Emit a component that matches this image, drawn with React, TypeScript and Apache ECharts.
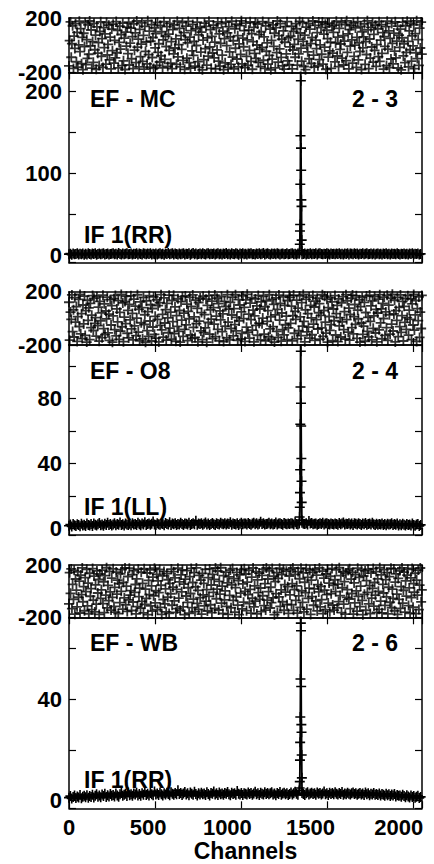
import React, { useEffect, useRef } from "react";
import * as echarts from "echarts";

// ---------------- data ----------------
const CHANNEL_MAX = 2048;
const CHANNEL_TICKS = [0, 500, 1000, 1500, 2000];
const BASELINE_LABELS = ["EF - MC", "EF - O8", "EF - WB"];
const PAIR_LABELS = ["2 - 3", "2 - 4", "2 - 6"];
const IF_LABELS = ["IF 1(RR)", "IF 1(LL)", "IF 1(RR)"];
const PHASE_TICKS = [-200, 200];
const AMP_MIN = [-8.5, -4.1, -3];
const AMP_MAX = [223, 112.8, 72.3];
const AMP_TICK_STEP = [50, 20, 20];
const AMP_LABEL_STEP = [100, 40, 40];
const BASE_STEP = 8; // baseline amplitude sampled every 8 channels

const phaseMC = [
  -152, 34, 171, -88, 12, 143, -170, 67, -23, 158, -121, 95, -160, 3, 176, -47, 122, -135, 58, -179,
  88, -10, 165, -142, 41, -97, 150, -66, 178, -5, 112, -168, 27, -125, 161, -33, 74, -176, 135, -58,
  19, -149, 101, 172, -82, 49, -163, 130, -17, 84, -139, 167, -71, 6, 147, -108, 60, -174, 119, -40,
  155, -131, 36, -92, 174, -55, 109, -166, 21, 140, -28, 79, -150, 162, -114, 52, -178, 96, -7, 133,
  -61, 169, -145, 15, 126, -99, 63, -172, 157, -36, 91, -127, 178, -14, 45, -158, 117, -84, 8, 164,
  -118, 72, -175, 139, -45, 24, -137, 180, -69, 103, -161, 31, 152, -90, 57, -170, 128, -19, 86, -147,
  168, -52, 11, -123, 145, -77, 99, -165, 39, 173, -103, 66, -9, 137, -156, 81, -38, 160, -132, 27,
  -171, 114, -63, 150, -20, 47, -140, 176, -86, 5, 124, -159, 70, -30, 166, -111, 93, -177, 42, 141,
  -95, 18, 175, -128, 59, -167, 107, -42, 153, -74, 29, -153, 120, -2, 170, -120, 76, -163, 132, -50,
  97, -180, 38, -106, 162, -25, 138, -146, 54, -80, 177, -13, 115, -169, 65, -57, 148, -93, 23, -173,
  127, -34, 171, -117, 83, -154, 14, 159, -72, 104, -179, 48, -129, 169, -3, 91, -162, 136, -48, 61,
  -141, 176, -87, 33, -174, 121, -22, 154, -101, 70, -158, 10, 144, -67, 179, -136, 53, -11, 108, -164,
  163, -81, 40, -148, 111, -37, 172, -119, 85, -176, 26, 131, -59, 167, -96, 2, 156, -126, 78, -31,
  -157, 99, -16, 174, -110, 62, -170, 142, -44, 17, -138, 165, -75, 119, -180, 36, -102, 149, -8, 88,
  -166, 129, -54, 178, -124, 71, -27, 158, -89, 44, -151, 106, -175, 22, 137, -64, 173, -115, 56, -143,
  -12, 66, 140, -174, -35, 102, 7, -88, 159, 121, -146, 44, -63, 175, 90, -21, -117, 168, 28, -156,
  75, -179, 133, -2, -48, 161, -99, 118, 12, -134, 57, 178, -72, -160, 146, 38, -25, 93, -151, 170,
  -105, 3, 129, -66, 171, -138, 81, -14, 154, -176, 110, 49, -87, 163, -41, 22, -169, 137, -58, 94,
  148, -122, 17, 176, -79, 60, -157, 124, -31, 9, 167, -95, 71, -145, 30, 152, -113, 179, -52, 84,
  -173, 115, -6, 145, 40, -131, 165, -82, 1, 127, -162, 58, 174, -107, 18, -46, 139, -178, 99, -19,
  62, 157, -140, 26, -68, 179, 113, -171, 46, -94, 131, -13, 166, -124, 80, -37, 147, -155, 5, 121,
  -83, 173, -119, 37, 151, -60, 92, -175, 64, -8, 136, -149, 176, -29, 105, -164, 51, -101, 160, 14,
  -136, 89, -43, 172, -92, 31, 141, -167, 74, -15, 118, -180, 55, 169, -78, 11, -128, 143, -53, 177,
  28, -158, 106, -33, 163, -116, 69, -4, 149, -172, 86, -55, 179, -98, 42, -147, 125, -20, 170, -65,
];

const phaseO8 = [
  121, -164, 47, -8, 176, -99, 64, -140, 155, -29, 88, -173, 13, 142, -61, 179, -116, 35, -152, 100,
  -42, 167, -128, 58, -178, 136, -15, 79, -160, 113, -70, 24, 171, -91, 150, -37, 6, -134, 162, -55,
  84, -171, 128, -18, 41, -145, 174, -77, 109, -122, 55, -4, 159, -109, 31, -166, 140, -50, 95, -179,
  18, 148, -85, 172, -131, 71, -26, 133, -158, 45, -96, 179, -63, 116, -175, 9, 126, -40, 166, -112,
  60, -147, 105, -11, 169, -79, 37, -162, 145, -57, 92, -129, 1, 177, -103, 68, -168, 123, -33, 81,
  -154, 157, -46, 27, -180, 131, -92, 50, -136, 170, -20, 102, -170, 74, -65, 161, -120, 15, -148, 139,
  -7, 95, -177, 118, -52, 178, -87, 30, -141, 153, -35, 66, -163, 112, 4, -108, 174, -73, 46, -157,
  134, -24, 173, -115, 86, -172, 21, -60, 147, -98, 59, -178, 125, -13, 163, -135, 39, -82, 168, -49,
  107, -167, 52, -3, 158, -125, 90, -150, 176, -68, 11, -143, 137, -39, 75, -176, 119, -21, 152, -94,
  43, -159, 166, -107, 28, -71, 144, -179, 98, -31, 171, -119, 63, -6, 130, -152, 80, -44, 175, -137,
  16, 151, -83, 110, -169, 56, -12, 164, -100, 34, -174, 127, -58, 89, -146, 178, -28, 69, -161, 120,
  -76, 25, 160, -132, 73, -47, 177, -94, 8, -165, 141, -19, 100, -155, 49, -113, 168, -2, 83, -173,
  138, -66, 180, -104, 32, -149, 115, -9, 156, -88, 61, -176, 19, 146, -53, 94, -127, 172, -36, 70,
  -162, 124, -41, 2, 165, -118, 87, -169, 132, -23, 58, -138, 177, -79, 12, -156, 143, -62, 105, -178,
  26, 154, -97, 67, -143, 175, -14, 113, -171, 40, -84, 162, -124, 97, -48, 17, -160, 134, -71, 173,
  158, -38, 91, -169, 20, 175, -112, 53, -8, 137, -154, 76, -93, 168, 11, -130, 118, -59, 179, -22,
  -176, 64, 142, -101, 35, -66, 160, -148, 97, 4, -123, 172, -44, 85, -165, 129, -10, 151, -80, 42,
  110, -157, 23, -72, 177, -135, 59, 166, -28, -111, 143, -179, 80, 14, -90, 155, -47, 124, -168, 70,
  -18, 171, -125, 36, 98, -174, 146, -56, 5, -140, 117, -27, 163, -84, 51, -155, 178, -9, 132, -104,
  77, -163, 29, 152, -69, 175, -117, 13, 104, -45, 169, -151, 62, -3, 139, -178, 88, -35, 157, -121,
  -58, 120, -172, 44, 167, -97, 8, -139, 175, -23, 93, -162, 131, -75, 19, 164, -110, 67, -176, 40,
  145, -86, 178, -34, 71, -153, 112, -1, 160, -128, 48, -70, 173, -166, 99, 27, -118, 150, -43, 180,
  -95, 33, 136, -177, 58, -15, 158, -137, 82, -62, 176, -105, 21, 127, -170, 90, -30, 149, -83, 6,
  170, -126, 61, -7, 146, -160, 109, -50, 179, -88, 26, 134, -173, 73, -17, 161, -143, 47, -76, 172,
];

const phaseWB = [
  -98, 141, -17, 170, -133, 52, -62, 159, -176, 93, 8, -120, 148, -45, 77, -167, 123, -27, 178, -81,
  35, -150, 104, -3, 167, -112, 62, -173, 137, -39, 20, -142, 173, -68, 115, -159, 48, -100, 155, -14,
  89, -178, 131, -55, 10, 161, -95, 72, -164, 118, -30, 179, -128, 44, -73, 152, -6, -145, 100, -48,
  171, -117, 29, -160, 146, -23, 85, -172, 57, -88, 133, -1, 164, -138, 67, -52, 177, -105, 38, -155,
  112, -66, 176, -31, 4, -148, 126, -83, 158, -10, 51, -174, 94, -119, 168, -42, 23, -130, 145, -78,
  60, -166, 172, -101, 15, -56, 139, -179, 82, -26, 163, -113, 40, -153, 107, -35, 175, -90, 3, 128,
  -141, 79, -12, 166, -124, 45, -178, 117, -64, 151, -97, 18, -159, 134, -46, 87, -170, 60, -20, 169,
  -108, 31, 149, -75, 101, -162, 13, -134, 176, -53, 71, -147, 124, -5, 163, -121, 54, -180, 92, -37,
  157, -86, 26, -169, 111, -18, 174, -126, 66, -61, 141, -156, 33, 178, -93, 6, -139, 120, -50, 84,
  -175, 136, -28, 59, -113, 167, -76, 11, -152, 103, -40, 170, -104, 47, -165, 128, -9, 90, -132, 177,
  -58, 16, 154, -144, 75, -22, 179, -92, 39, -171, 118, -67, 2, 146, -117, 63, -177, 109, -33, 161,
  -127, 48, 173, -70, 96, -161, 27, -43, 143, -107, 80, -179, 125, -15, 165, -136, 55, -84, 172, -2,
  131, -149, 69, -26, 160, -95, 14, -168, 108, -54, 177, -120, 41, -77, 150, -174, 86, -11, 138, -63,
  24, -157, 121, -35, 169, -110, 57, -145, 178, -69, 93, -4, 156, -129, 30, -87, 173, -51, 114, -180,
  73, -19, 142, -163, 98, -44, 175, -116, 9, 127, -81, 166, -146, 50, -8, 153, -102, 34, -170, 116,
  -29, 165, -103, 58, 177, -147, 12, 129, -71, 41, -168, 150, -36, 95, -124, 175, 3, -86, 140, -159,
  68, -11, 172, -137, 106, -55, 23, 160, -178, 84, -42, 143, -108, 17, 169, -74, 122, -151, 50, -6,
  178, -120, 36, -65, 153, -172, 99, 8, -142, 131, -27, 167, -91, 62, -157, 114, -19, 174, -106, 45,
  -145, 87, -3, 163, -128, 54, -80, 179, -34, 118, -164, 26, 147, -99, 73, -176, 135, -47, 11, 158,
  -60, 171, -133, 92, -18, 144, -175, 63, -89, 126, 2, -153, 176, -40, 105, -118, 39, 162, -70, -180,
  116, -24, 155, -146, 81, -9, 168, -97, 43, -171, 138, -53, 21, 173, -114, 66, -31, 150, -162, 94,
  -1, -139, 179, -77, 125, -166, 52, -14, 164, -109, 88, -44, 141, -174, 30, 111, -85, 176, -127, 15,
  -56, 170, -150, 69, 132, -22, -177, 97, -63, 156, -131, 34, 178, -92, 7, 145, -160, 79, -38, 123,
  166, -110, 25, -169, 102, -49, 174, -123, 57, -7, 137, -172, 85, -30, 161, -141, 46, 177, -82, 10,
];

const ampBaseMC = [
  1.9, 2.5, 1.3, 2.8, 1.7, 2.2, 3.0, 1.5, 2.3, 1.8, 2.6, 1.2, 2.4, 1.6, 2.9, 2.0,
  1.4, 2.7, 2.1, 3.1, 1.3, 2.0, 2.6, 1.7, 2.4, 3.0, 1.5, 2.2, 2.8, 1.4, 2.1, 2.5,
  2.9, 1.8, 2.4, 1.6, 3.2, 2.1, 1.4, 2.7, 1.9, 2.5, 3.1, 1.7, 2.2, 2.8, 1.5, 2.3,
  2.0, 3.0, 1.6, 2.6, 2.1, 1.4, 2.9, 2.4, 1.8, 2.7, 2.2, 3.1, 1.5, 2.3, 1.9, 2.8,
  1.6, 2.4, 3.0, 1.9, 2.5, 1.2, 2.8, 2.1, 3.3, 1.7, 2.3, 2.9, 1.5, 2.6, 2.0, 1.4,
  2.7, 1.8, 2.3, 3.0, 1.6, 2.5, 2.0, 2.9, 1.3, 2.4, 3.2, 1.9, 2.6, 1.5, 2.2, 2.8,
  1.7, 2.9, 2.2, 1.5, 2.7, 3.1, 1.8, 2.4, 2.0, 2.8, 1.4, 2.5, 3.0, 1.9, 2.3, 1.6,
  2.6, 2.1, 3.2, 1.7, 2.4, 1.5, 2.9, 2.2, 1.8, 3.0, 2.5, 1.3, 2.7, 2.1, 2.9, 1.8,
  2.3, 1.6, 2.8, 2.4, 3.1, 1.9, 2.2, 1.4, 2.6, 2.0, 2.9, 1.7, 2.4, 3.2, 1.5, 2.5,
  2.9, 2.2, 1.5, 2.7, 2.0, 2.6, 1.8, 3.0, 2.3, 1.6, 2.5, 2.8, 1.9, 2.2, 3.1, 1.7,
  2.0, 2.6, 3.0, 1.8, 2.3, 1.5, 2.7, 2.4, 3.3, 1.9, 2.1, 2.8, 1.6, 2.5, 2.0, 2.9,
  1.8, 2.4, 2.1, 2.9, 1.6, 2.6, 3.0, 2.2, 1.7, 2.5, 2.0, 3.1, 2.3, 1.5, 2.7, 2.2,
  2.5, 1.7, 2.8, 2.2, 3.0, 1.9, 2.4, 1.6, 2.7, 2.1, 2.9, 1.4, 2.6, 2.3, 1.8, 3.0,
  2.1, 2.7, 1.5, 2.4, 2.0, 2.9, 1.7, 2.5, 3.1, 1.8, 2.2, 2.6, 1.9, 2.8, 1.6, 2.3,
  2.8, 1.9, 2.3, 1.6, 2.6, 2.1, 3.0, 1.8, 2.4, 1.5, 2.7, 2.0, 2.5, 1.7, 2.9, 2.2,
  1.6, 2.5, 2.0, 2.8, 1.8, 2.3, 1.4, 2.6, 2.1, 2.9, 1.7, 2.4, 2.0, 2.6, 1.5, 2.2,
];

const ampBaseO8 = [
  1.6, 2.3, 1.1, 2.7, 1.9, 1.4, 2.5, 2.0, 1.3, 2.8, 1.7, 2.2, 1.5, 2.9, 2.1, 1.8,
  2.6, 1.4, 3.0, 2.2, 1.7, 2.5, 3.3, 1.9, 2.4, 1.6, 2.8, 2.1, 3.4, 2.0, 2.6, 1.8,
  2.3, 3.1, 1.9, 2.7, 2.2, 3.6, 2.0, 2.5, 1.8, 3.0, 2.4, 2.1, 2.8, 1.9, 3.2, 2.3,
  2.7, 2.0, 3.4, 2.5, 1.9, 2.9, 2.3, 3.7, 2.1, 2.6, 3.0, 2.2, 2.8, 4.2, 2.4, 2.0,
  3.1, 2.5, 2.2, 3.0, 2.7, 1.9, 3.3, 2.6, 2.3, 3.8, 2.1, 2.9, 2.5, 3.2, 2.0, 2.7,
  2.4, 3.5, 2.6, 2.1, 3.0, 2.8, 2.3, 3.4, 2.0, 2.7, 3.1, 2.5, 4.6, 2.2, 2.9, 2.6,
  3.2, 2.2, 2.8, 3.6, 2.4, 3.0, 2.1, 2.7, 3.3, 2.5, 2.0, 3.1, 2.6, 2.3, 3.5, 2.8,
  2.5, 3.1, 2.3, 2.9, 2.6, 3.8, 2.2, 3.0, 2.7, 2.4, 3.2, 2.1, 2.8, 3.4, 2.5, 2.9,
  3.0, 2.4, 3.3, 2.6, 2.2, 2.9, 3.5, 2.5, 3.1, 2.3, 2.8, 4.0, 2.6, 3.2, 2.4, 2.7,
  2.8, 3.4, 2.5, 3.0, 2.3, 2.7, 3.6, 2.4, 2.9, 3.1, 2.6, 2.2, 3.3, 2.8, 2.5, 3.0,
  2.6, 3.2, 2.9, 2.4, 3.7, 2.7, 2.3, 3.0, 2.5, 3.4, 2.8, 2.6, 3.1, 2.4, 4.5, 2.9,
  3.3, 2.5, 2.8, 3.0, 2.2, 2.7, 3.2, 2.6, 3.5, 2.4, 2.9, 3.1, 2.7, 2.3, 3.0, 2.6,
  2.4, 3.0, 2.7, 2.2, 3.3, 2.5, 2.9, 3.6, 2.3, 2.8, 2.6, 3.2, 2.4, 2.9, 2.1, 3.1,
  2.8, 2.3, 3.1, 2.6, 2.0, 2.9, 2.5, 3.3, 2.2, 2.7, 3.0, 2.4, 3.4, 2.5, 2.1, 2.8,
  2.2, 2.7, 2.4, 3.0, 2.1, 2.6, 1.9, 2.8, 2.3, 2.5, 3.1, 2.0, 2.6, 2.2, 2.9, 1.8,
  2.5, 1.9, 2.8, 2.2, 1.7, 2.6, 2.1, 2.4, 1.8, 2.9, 2.0, 1.6, 2.3, 2.7, 1.5, 2.1,
];

const ampBaseWB = [
  1.2, 1.8, 0.9, 1.5, 2.0, 1.1, 1.7, 1.3, 2.2, 1.0, 1.6, 1.9, 1.4, 2.1, 1.2, 1.8,
  1.5, 2.3, 1.3, 1.9, 2.5, 1.6, 2.0, 1.4, 2.4, 1.8, 2.7, 1.5, 2.1, 1.7, 2.6, 1.9,
  2.2, 1.7, 2.8, 2.0, 1.6, 2.5, 3.0, 1.9, 2.3, 2.7, 1.8, 3.2, 2.1, 2.5, 1.9, 2.8,
  2.4, 3.1, 2.0, 2.6, 1.9, 2.9, 2.3, 3.4, 2.2, 2.7, 2.0, 3.0, 2.5, 2.1, 3.6, 2.4,
  2.8, 2.2, 3.2, 2.5, 2.0, 2.9, 2.4, 3.1, 2.6, 2.1, 3.3, 2.7, 2.3, 3.0, 2.5, 4.1,
  2.6, 3.0, 2.2, 2.8, 3.4, 2.4, 2.9, 2.1, 3.2, 2.7, 2.3, 3.5, 2.6, 2.0, 2.9, 2.4,
  3.1, 2.5, 2.8, 2.2, 3.3, 2.6, 2.0, 3.0, 2.7, 3.6, 2.4, 2.9, 2.2, 3.2, 2.5, 2.8,
  2.3, 3.0, 2.7, 3.4, 2.5, 2.1, 3.1, 2.6, 2.9, 2.3, 3.8, 2.7, 2.4, 3.0, 2.2, 2.9,
  2.7, 2.4, 3.2, 2.6, 3.0, 2.3, 2.8, 3.5, 2.5, 2.9, 2.2, 3.1, 2.7, 2.4, 3.3, 2.6,
  3.0, 2.5, 2.9, 3.3, 2.4, 2.8, 2.1, 3.0, 2.6, 3.4, 2.3, 2.8, 3.1, 2.5, 2.9, 2.2,
  2.6, 3.2, 2.4, 2.9, 3.5, 2.7, 2.3, 4.0, 2.5, 3.0, 2.6, 2.2, 2.9, 3.3, 2.4, 2.8,
  3.1, 2.6, 2.9, 2.3, 3.2, 2.7, 3.0, 2.4, 2.8, 3.6, 2.5, 2.9, 2.2, 3.1, 2.6, 3.0,
  2.5, 3.3, 2.7, 2.4, 3.0, 2.6, 3.4, 2.3, 2.8, 2.5, 3.1, 2.7, 2.4, 2.9, 3.2, 2.6,
  2.9, 2.3, 2.7, 3.0, 2.4, 2.8, 2.2, 3.2, 2.5, 2.9, 2.1, 2.7, 2.4, 3.0, 2.3, 2.6,
  2.2, 2.8, 2.0, 2.6, 2.3, 1.9, 2.7, 2.1, 2.5, 1.8, 2.4, 2.0, 2.6, 1.7, 2.2, 1.9,
  2.0, 1.6, 2.3, 1.8, 1.4, 2.1, 1.7, 1.3, 2.0, 1.5, 1.8, 1.2, 1.6, 1.9, 1.1, 1.5,
];

// line peak (maser line) at full channel resolution
const peakChannels = [1338, 1339, 1340, 1341, 1342, 1343, 1344, 1345, 1346, 1347, 1348, 1349, 1350, 1351];
const peakMC = [4, 14, 30, 38, 87, 146, 240, 213, 131, 104, 68, 60, 19, 6];
const peakO8 = [7, 13, 22, 36, 64, 87, 130, 109, 77, 63, 43, 29, 16, 5];
const peakWB = [5, 7.5, 16, 23, 33, 48, 85, 70, 67, 45, 30, 27, 18, 9];

const PHASES = [phaseMC, phaseO8, phaseWB];
const AMP_BASES = [ampBaseMC, ampBaseO8, ampBaseWB];
const PEAKS = [peakMC, peakO8, peakWB];

// ---------------- layout / style ----------------
const LAYOUT = [
  { phaseTop: 18, phaseBottom: 72.5, ampBottom: 262.7 },
  { phaseTop: 291.7, phaseBottom: 345, ampBottom: 535 },
  { phaseTop: 565, phaseBottom: 617.3, ampBottom: 808.3 },
];
const GRID_LEFT = 69;
const GRID_RIGHT = 12;
const FONT = "Liberation Sans";
const PLUS_PHASE = "path://M0,4.1H10V5.9H0Z M4.1,0H5.9V10H4.1Z";
const PLUS_AMP = "path://M0,4.2H10V5.8H0Z M4.2,0H5.8V10H4.2Z";
// horizontal nudge (px, leftwards) of the channel tick labels, as printed in the original
const X_LABEL_SHIFT: Record<number, number> = { 0: 0, 500: 7, 1000: 14, 1500: 17, 2000: 15 };

function phasePoints(vals: number[]) {
  const n = vals.length;
  return vals.map((v, i) => [Math.round((i * (CHANNEL_MAX - 1)) / (n - 1)), v]);
}

function ampPoints(base: number[], peak: number[]) {
  const lo = peakChannels[0];
  const hi = peakChannels[peakChannels.length - 1];
  const pts: number[][] = [];
  base.forEach((v, i) => {
    const ch = i * BASE_STEP;
    if (ch < lo || ch > hi) pts.push([ch, v]);
  });
  peak.forEach((v, i) => pts.push([peakChannels[i], v]));
  pts.sort((a, b) => a[0] - b[0]);
  return pts;
}

const axisLine = { show: true, onZero: false, lineStyle: { color: "#000", width: 1.5 } };
const axisTick = { show: true, inside: true, length: 7, lineStyle: { color: "#000", width: 1.2 } };
const labelStyle = { color: "#000", fontFamily: FONT, fontWeight: "bold" as const, fontSize: 22 };

const xRich: Record<string, any> = {};
CHANNEL_TICKS.forEach((t) => {
  xRich["t" + t] = {
    color: "#000",
    fontFamily: FONT,
    fontWeight: "bold",
    fontSize: 22,
    padding: [0, 2 * X_LABEL_SHIFT[t], 0, 0],
  };
});

function buildOption() {
  const grid: any[] = [];
  const xAxis: any[] = [];
  const yAxis: any[] = [];
  const series: any[] = [];
  const graphic: any[] = [];

  LAYOUT.forEach((L, p) => {
    grid.push({
      left: GRID_LEFT,
      right: GRID_RIGHT,
      top: L.phaseTop,
      height: L.phaseBottom - L.phaseTop,
      outerBoundsMode: "none",
      containLabel: false,
    });
    grid.push({
      left: GRID_LEFT,
      right: GRID_RIGHT,
      top: L.phaseBottom,
      height: L.ampBottom - L.phaseBottom,
      outerBoundsMode: "none",
      containLabel: false,
    });
    const gPhase = 2 * p;
    const gAmp = 2 * p + 1;
    const last = p === LAYOUT.length - 1;

    const mkX = (gridIndex: number, position: string, labels: boolean) => ({
      type: "value",
      gridIndex,
      position,
      min: 0,
      max: CHANNEL_MAX,
      minInterval: 500,
      maxInterval: 500,
      axisLine,
      axisTick,
      splitLine: { show: false },
      axisLabel: {
        show: labels,
        ...labelStyle,
        margin: 8,
        hideOverlap: false,
        formatter: (v: number) => (CHANNEL_TICKS.includes(v) ? `{t${v}|${v}}` : ""),
        rich: xRich,
      },
      ...(labels
        ? {
            name: "Channels",
            nameLocation: "middle",
            nameGap: 30,
            nameTextStyle: { color: "#000", fontFamily: FONT, fontWeight: "bold", fontSize: 23 },
          }
        : {}),
    });
    xAxis.push(mkX(gPhase, "bottom", false));
    xAxis.push(mkX(gPhase, "top", false));
    xAxis.push(mkX(gAmp, "bottom", last));
    xAxis.push(mkX(gAmp, "top", false));

    const mkPhaseY = (position: string, labels: boolean) => ({
      type: "value",
      gridIndex: gPhase,
      position,
      min: PHASE_TICKS[0],
      max: PHASE_TICKS[1],
      interval: PHASE_TICKS[1] - PHASE_TICKS[0],
      axisLine,
      axisTick: { show: false },
      splitLine: { show: false },
      axisLabel: { show: labels, ...labelStyle, margin: 7 },
    });
    const mkAmpY = (position: string, labels: boolean) => ({
      type: "value",
      gridIndex: gAmp,
      position,
      min: AMP_MIN[p],
      max: AMP_MAX[p],
      minInterval: AMP_TICK_STEP[p],
      maxInterval: AMP_TICK_STEP[p],
      axisLine,
      axisTick,
      splitLine: { show: false },
      axisLabel: {
        show: labels,
        ...labelStyle,
        margin: 7,
        formatter: (v: number) =>
          v >= 0 && Math.abs(v % AMP_LABEL_STEP[p]) < 1e-6 ? String(v) : "",
      },
    });
    yAxis.push(mkPhaseY("left", true));
    yAxis.push(mkPhaseY("right", false));
    yAxis.push(mkAmpY("left", true));
    yAxis.push(mkAmpY("right", false));

    series.push({
      type: "scatter",
      xAxisIndex: 4 * p,
      yAxisIndex: 4 * p,
      data: phasePoints(PHASES[p]),
      symbol: PLUS_PHASE,
      symbolSize: 10,
      itemStyle: { color: "#000" },
      silent: true,
    });
    series.push({
      type: "line",
      xAxisIndex: 4 * p + 2,
      yAxisIndex: 4 * p + 2,
      data: ampPoints(AMP_BASES[p], PEAKS[p]),
      symbol: PLUS_AMP,
      symbolSize: 10,
      showSymbol: true,
      showAllSymbol: true,
      clip: true,
      lineStyle: { color: "#000", width: 1.8 },
      itemStyle: { color: "#000" },
      silent: true,
    });

    const textFont = `bold 23px "${FONT}"`;
    graphic.push({
      type: "text",
      x: 90,
      y: L.phaseBottom + 26,
      style: { text: BASELINE_LABELS[p], font: textFont, fill: "#000", align: "left", verticalAlign: "middle" },
    });
    graphic.push({
      type: "text",
      x: 398,
      y: L.phaseBottom + 26,
      style: { text: PAIR_LABELS[p], font: textFont, fill: "#000", align: "right", verticalAlign: "middle" },
    });
    graphic.push({
      type: "text",
      x: 84,
      y: L.ampBottom - 28,
      style: { text: IF_LABELS[p], font: textFont, fill: "#000", align: "left", verticalAlign: "middle" },
    });
  });

  return {
    animation: false,
    backgroundColor: "#fff",
    grid,
    xAxis,
    yAxis,
    series,
    graphic,
  };
}

export default function App() {
  const ref = useRef<HTMLDivElement>(null);
  useEffect(() => {
    if (!ref.current) return;
    const chart = echarts.init(ref.current, undefined, { renderer: "svg" });
    chart.setOption(buildOption() as any);
    return () => chart.dispose();
  }, []);
  return (
    <div
      ref={ref}
      style={{ position: "absolute", left: 0, top: 0, width: 434, height: 864, background: "#fff" }}
    />
  );
}
